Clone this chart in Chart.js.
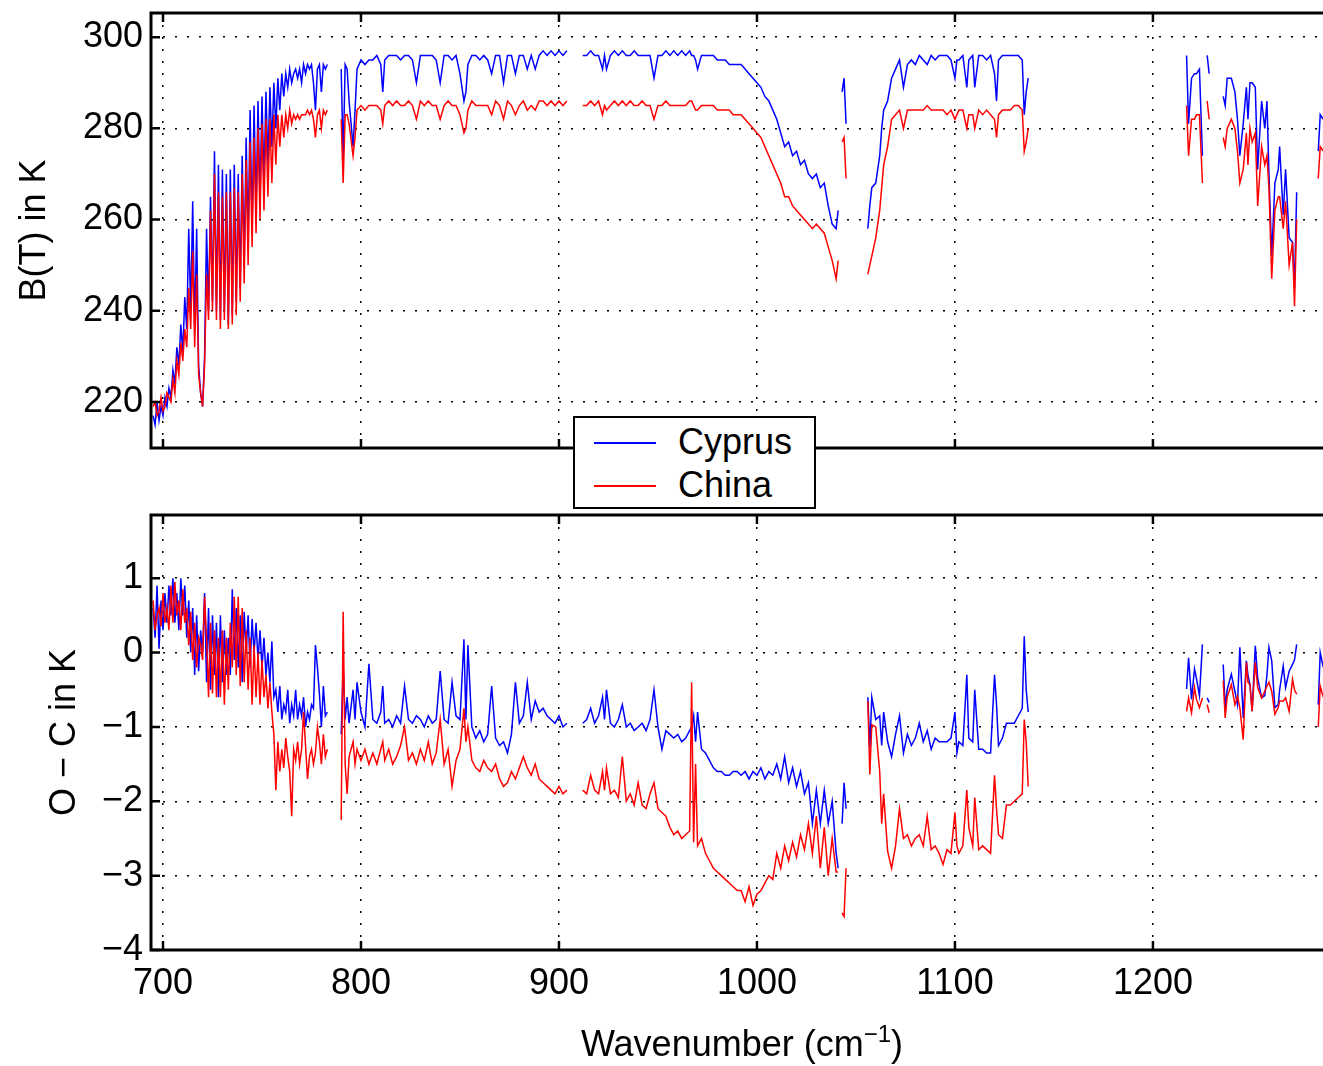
<!DOCTYPE html>
<html>
<head>
<meta charset="utf-8">
<script src="https://cdn.jsdelivr.net/npm/chart.js@4.4.1/dist/chart.umd.min.js"></script>
<style>
  body { margin: 0; background: #fff; width: 1323px; height: 1066px; overflow: hidden; position: relative;
         font-family: "Liberation Sans", Arial, sans-serif; }
  canvas { position: absolute; left: 0; }
  #top-chart { top: 0; }
  #bottom-chart { top: 470px; }
  #legend { position: absolute; left: 573px; top: 416px; width: 243px; height: 93px; box-sizing: border-box;
            border: 2px solid #000; background: #fff; z-index: 5; }
  #legend .line { position: absolute; left: 19px; width: 62px; height: 1.5px; }
  #legend .label { position: absolute; left: 103px; font-size: 36px; line-height: 36px; color: #000; }
  #x-title { position: absolute; left: 742px; top: 1026px; transform: translateX(-50%); font-size: 36px;
             line-height: 36px; white-space: nowrap; color: #000; }
  #x-title sup { font-size: 24px; vertical-align: 14px; line-height: 0; }
</style>
</head>
<body>
<canvas id="top-chart" width="1323" height="460"></canvas>
<canvas id="bottom-chart" width="1323" height="596"></canvas>
<div id="legend">
  <div class="line" style="top:24px;background:#0000ff"></div>
  <div class="label" style="top:6px">Cyprus</div>
  <div class="line" style="top:67px;background:#ff0000"></div>
  <div class="label" style="top:49px">China</div>
</div>
<div id="x-title">Wavenumber (cm<sup>&minus;1</sup>)</div>
<script>
// Wavenumbers (cm-1), null rows mark gaps in the spectrum
const wn = [
  695,696,697,698,699,700,701,702,703,704,
  705,706,707,708,709,710,711,712,713,714,
  715,716,717,718,719,720,721,722,723,724,
  725,726,727,728,729,730,731,732,733,734,
  735,736,737,738,739,740,741,742,743,744,
  745,746,747,748,749,750,751,752,753,754,
  755,756,757,758,759,760,761,762,763,764,
  765,766,767,768,769,770,771,772,773,774,
  775,776,777,778,779,780,781,782,783,786,
  790,791,792,793,794,796,797,798,800,802,
  804,806,808,810,811,812,814,816,818,820,
  822,824,826,828,830,832,834,836,838,840,
  842,844,846,848,850,852,853,854,856,858,
  860,862,864,866,868,870,872,874,876,878,
  880,882,884,886,888,890,892,894,896,898,
  900,902,904,908,912,914,916,918,920,922,
  923,924,926,928,930,932,934,936,938,940,
  942,944,946,948,950,952,954,956,958,960,
  962,964,966,967,968,969,970,972,974,976,
  978,980,982,984,986,988,990,992,994,996,
  998,1000,1002,1004,1006,1008,1010,1012,1014,1016,
  1018,1020,1022,1024,1026,1028,1030,1032,1034,1036,
  1038,1040,1041,1042,1043,1044,1045,1050,
  1056,1057,1058,1060,1062,1063,1064,1066,1068,1070,
  1072,1074,1076,1078,1080,1082,1084,1086,1088,1090,
  1092,1094,1096,1098,1100,1101,1102,1104,1106,1107,
  1109,1110,1112,1114,1116,1118,1120,1121,1122,1124,
  1126,1128,1130,1132,1134,1135,1136,1137,1170,
  1217,1218,1219.5,1221,1222,1223.5,1225,1226,1227.4,1228.4,
  1232,1235.5,1236.5,1237.5,1239.6,1241.4,1242.7,1243.9,1245.6,1247.2,
  1248,1249,1250.1,1251.7,1252.9,1254.9,1256.5,1257.6,1258.6,1260,
  1261.6,1263.3,1264,1265.8,1267,1268.8,1270.5,1271.5,1272.6,1278,
  1283.5,1284.5,1286
];

// Brightness temperature B(T) in K
const topCyprus = [
  217,215,220,216,219,217,221,219,223,221,
  227,224,232,228,237,231,243,236,258,240,
  264,236,258,228,222,219,230,258,240,265,
  242,275,240,272,238,271,240,270,237,271,
  239,272,242,270,245,274,250,278,255,284,
  258,285,262,286,264,287,268,288,272,289,
  276,290,280,291,284,292,287,292,289,293,
  290,292,293,291,293,290,294,292,294,293,
  294,290,284,293,294,288,294,293,294,null,
  293,273,294,293,286,276,284,293,295,294,
  295,295,296,294,288,295,296,296,296,295,
  296,296,295,290,296,296,296,296,295,290,
  296,296,295,296,292,286,288,294,296,296,
  295,296,295,292,296,296,290,296,296,292,
  296,296,293,296,293,296,297,296,297,296,
  297,296,297,null,296,296,297,296,296,293,
  296,293,296,297,296,297,296,296,297,296,
  296,296,296,291,296,296,297,296,297,296,
  297,296,297,296,296,295,293,296,296,296,
  296,295,295,295,294,294,294,294,293,292,
  291,290,289,287,286,284,282,279,276,277,
  274,275,272,273,270,269,270,267,268,263,
  259,258,262,null,288,291,281,null,
  258,263,267,268,274,280,284,286,291,293,
  295,289,294,295,294,296,295,294,296,295,
  296,296,296,295,291,295,295,296,289,295,
  296,289,296,296,295,296,292,286,295,296,
  296,296,296,296,295,283,288,291,null,
  296,281,291,292,292,293,274,null,296,292,
  null,287,285,291,291,288,282,274,281,289,
  282,290,290,289,271,286,280,286,270,252,
  268,271,276,261,271,256,255,245,266,null,
  275,283,282
];
const topChina = [
  219,220,217,218,221,218,219,222,221,220,
  225,222,229,226,233,229,236,232,245,236,
  253,232,248,226,222,219,228,248,238,262,
  240,270,238,266,236,265,238,266,236,266,
  237,267,239,266,242,270,246,273,250,277,
  254,278,257,280,260,281,262,282,265,282,
  268,283,272,283,276,283,278,283,280,284,
  281,283,282,283,282,283,283,283,284,283,
  284,282,278,283,284,280,284,283,284,null,
  282,268,283,283,281,274,278,284,285,284,
  285,285,285,284,281,285,286,285,286,285,
  285,286,285,282,286,285,286,285,285,282,
  285,286,285,285,283,279,280,284,286,285,
  285,285,285,283,286,285,282,286,285,283,
  285,286,284,285,284,286,286,285,286,285,
  286,285,286,null,285,285,286,285,286,283,
  285,284,285,286,285,286,285,286,285,285,
  286,285,285,282,285,285,286,285,285,285,
  285,285,286,286,285,284,284,285,285,285,
  285,284,284,284,284,283,283,283,282,281,
  280,279,278,276,274,272,270,268,265,265,
  263,262,261,260,259,258,259,258,257,254,
  251,247,251,null,277,278,269,null,
  248,250,252,256,262,267,272,276,282,283,
  284,280,284,284,284,284,284,285,284,284,
  284,284,283,284,282,283,284,284,280,283,
  283,280,284,283,284,283,282,278,283,284,
  284,284,285,285,284,275,277,280,null,
  285,274,282,282,283,283,268,null,286,282,
  null,278,276,280,282,280,275,268,271,279,
  272,280,277,279,263,276,272,274,267,247,
  262,265,265,258,264,250,255,241,260,null,
  269,276,275
];

// Observed minus computed, in K
const diffCyprus = [
  0.6,0.2,0.9,0.05,0.7,0.3,0.8,0.4,0.9,0.5,
  1.0,0.4,0.8,0.3,1.0,0.5,0.9,0.2,0.7,0.0,
  0.6,-0.3,0.5,-0.25,0.3,0.0,0.8,-0.4,0.6,-0.5,
  0.5,-0.3,0.4,-0.6,0.5,-0.4,0.3,-0.3,0.2,-0.3,
  0.85,-0.1,0.6,-0.2,0.5,-0.4,0.55,0.0,0.5,-0.2,
  0.45,0.0,0.4,-0.1,0.3,-0.2,0.2,-0.3,0.0,-0.4,
  0.15,-0.6,-0.5,-0.8,-0.45,-0.9,-0.7,-0.8,-0.5,-0.95,
  -0.7,-0.85,-0.5,-0.9,-0.7,-0.85,-0.6,-1.0,-0.8,-0.9,
  -0.7,-0.75,0.1,-0.2,-0.55,-1.0,-0.45,-0.85,-0.8,null,
  -1.1,-0.2,-0.9,-0.6,-0.95,-0.5,-0.9,-0.4,-0.8,-1.0,
  -0.15,-0.9,-0.95,-0.8,-0.45,-0.95,-0.9,-1.0,-0.85,-0.95,
  -0.45,-0.9,-0.95,-0.85,-0.9,-1.0,-0.85,-0.95,-0.9,-0.25,
  -0.9,-0.95,-0.4,-0.85,-0.9,0.18,-0.9,0.1,-1.0,-1.15,
  -1.05,-1.2,-1.1,-0.45,-1.15,-1.25,-1.2,-1.35,-1.1,-0.4,
  -0.95,-0.85,-0.4,-0.9,-0.65,-0.8,-0.75,-0.85,-0.9,-0.95,
  -0.85,-1.0,-0.95,null,-0.95,-0.9,-0.75,-0.95,-0.85,-0.6,
  -0.9,-0.5,-0.95,-1.0,-0.9,-0.7,-1.0,-0.95,-1.05,-1.0,
  -0.95,-1.05,-0.9,-0.5,-1.0,-1.3,-1.05,-1.1,-1.15,-1.1,
  -1.2,-1.15,-1.05,-1.0,-0.85,-1.2,-0.8,-1.3,-1.35,-1.45,
  -1.55,-1.6,-1.6,-1.65,-1.65,-1.6,-1.6,-1.65,-1.6,-1.7,
  -1.6,-1.65,-1.55,-1.7,-1.6,-1.65,-1.5,-1.7,-1.4,-1.75,
  -1.55,-1.8,-1.6,-1.9,-1.75,-2.3,-1.85,-2.3,-1.85,-2.3,
  -2.0,-2.7,-2.9,null,-2.3,-1.75,-2.1,null,
  -0.6,-1.28,-0.6,-0.9,-0.85,-1.25,-0.8,-1.2,-1.4,-1.1,
  -0.85,-1.35,-1.1,-1.25,-1.15,-0.95,-1.2,-1.05,-1.3,-1.15,
  -1.2,-1.2,-1.2,-1.15,-0.8,-1.35,-1.2,-1.25,-0.3,-1.15,
  -1.2,-0.5,-1.3,-1.3,-1.35,-1.35,-0.3,-0.7,-1.25,-1.15,
  -0.95,-0.95,-0.95,-0.85,-0.75,0.22,-0.5,-0.8,null,
  -0.49,-0.07,-0.63,-0.22,-0.35,-0.58,0.11,null,-0.61,-0.67,
  null,-0.16,-0.74,-0.5,-0.29,-0.52,-0.7,0.07,-0.88,-0.11,
  -0.3,-0.43,-0.79,0.09,-0.34,-0.61,-0.58,-0.3,0.07,-0.11,
  -0.74,-0.7,-0.5,-0.18,-0.47,-0.25,-0.16,-0.1,0.11,null,
  -0.7,0.0,-0.2
];
const diffChina = [
  0.7,0.3,0.5,0.6,0.35,0.8,0.4,0.6,0.3,0.9,
  0.4,0.95,0.5,0.7,0.3,0.85,0.4,0.6,0.1,0.55,
  -0.1,0.4,-0.2,0.2,0.1,-0.1,0.75,0.2,-0.6,0.4,
  -0.55,0.3,-0.6,0.2,-0.6,0.3,-0.7,0.2,-0.5,0.4,
  -0.2,0.75,-0.3,0.75,-0.45,0.6,-0.4,0.3,-0.5,0.2,
  -0.7,0.1,-0.6,0.0,-0.7,-0.1,-0.6,-0.3,-0.75,-0.4,
  -0.8,-1.1,-1.85,-1.2,-1.6,-1.3,-1.55,-1.15,-1.4,-1.6,
  -2.2,-1.3,-1.45,-1.2,-1.5,-1.3,-0.8,-1.25,-1.7,-1.4,
  -1.3,-1.5,-1.35,-1.0,-1.2,-1.5,-1.1,-1.4,-1.3,null,
  -2.25,0.55,-1.5,-1.9,-1.4,-1.2,-1.5,-1.3,-1.45,-1.3,
  -1.5,-1.35,-1.5,-1.3,-1.2,-1.45,-1.3,-1.5,-1.4,-1.25,
  -1.0,-1.45,-1.35,-1.5,-1.3,-1.45,-1.2,-1.5,-1.35,-0.9,
  -1.5,-1.3,-1.8,-1.45,-1.3,-0.75,-1.2,-1.0,-1.45,-1.55,
  -1.6,-1.45,-1.55,-1.6,-1.5,-1.7,-1.8,-1.75,-1.6,-1.7,
  -1.55,-1.4,-1.55,-1.65,-1.5,-1.7,-1.75,-1.8,-1.85,-1.9,
  -1.8,-1.9,-1.85,null,-1.85,-1.9,-1.65,-1.85,-1.9,-1.6,
  -1.85,-1.55,-1.9,-1.85,-1.95,-1.4,-2.0,-1.9,-2.05,-1.75,
  -2.05,-2.1,-1.9,-1.75,-2.1,-2.15,-2.2,-2.35,-2.45,-2.4,
  -2.5,-2.45,-2.4,-0.4,-2.55,-1.5,-2.6,-2.5,-2.7,-2.8,
  -2.9,-2.95,-3.0,-3.05,-3.1,-3.15,-3.2,-3.2,-3.35,-3.15,
  -3.4,-3.25,-3.2,-3.1,-3.0,-3.05,-2.7,-2.9,-2.6,-2.8,
  -2.55,-2.75,-2.45,-2.65,-2.3,-2.7,-2.2,-2.9,-2.35,-3.0,
  -2.5,-2.95,-2.95,null,-3.5,-3.55,-2.9,null,
  -0.65,-1.64,-0.97,-1.0,-1.6,-2.3,-1.9,-2.67,-2.9,-2.6,
  -2.1,-2.5,-2.45,-2.6,-2.5,-2.45,-2.6,-2.2,-2.65,-2.6,
  -2.7,-2.85,-2.65,-2.7,-2.15,-2.6,-2.7,-2.6,-1.85,-2.35,
  -2.6,-1.95,-2.65,-2.6,-2.65,-2.7,-1.65,-2.1,-2.45,-2.5,
  -2.05,-2.05,-2.0,-1.95,-1.9,-0.9,-1.2,-1.8,null,
  -0.79,-0.61,-0.81,-0.47,-0.63,-0.74,-0.61,null,-0.7,-0.81,
  null,-0.38,-0.88,-0.6,-0.43,-0.7,-0.59,-0.74,-1.17,-0.13,
  -0.4,-0.43,-0.79,-0.13,-0.47,-0.61,-0.52,-0.45,-0.4,-0.52,
  -0.83,-0.74,-0.65,-0.65,-0.61,-0.79,-0.36,-0.5,-0.56,null,
  -1.0,-0.45,-0.6
];

// Tick values
const xTicks = [700, 800, 900, 1000, 1100, 1200];
const topYTicks = [220, 240, 260, 280, 300];
const bottomYTicks = [-4, -3, -2, -1, 0, 1];

const X_MIN = 693.94;
const X_MAX = 1285.9;

Chart.defaults.font.family = '"Liberation Sans", Arial, sans-serif';
Chart.defaults.font.size = 36;
Chart.defaults.color = '#000';

// Draw the box and the inward tick marks like the original figure
const framePlugin = {
    id: 'frame',
    afterDatasetsDraw(chart) {
        const { ctx, chartArea: a, scales: { x, y } } = chart;
        ctx.save();
        ctx.strokeStyle = '#000';
        ctx.lineWidth = 3;
        ctx.beginPath();
        ctx.moveTo(a.right + 4, a.top);
        ctx.lineTo(a.left, a.top);
        ctx.lineTo(a.left, a.bottom);
        ctx.lineTo(a.right + 4, a.bottom);
        ctx.stroke();
        ctx.lineWidth = 2.5;
        ctx.beginPath();
        x.ticks.forEach(t => {
            const px = x.getPixelForValue(t.value);
            ctx.moveTo(px, a.bottom);
            ctx.lineTo(px, a.bottom - 9);
            ctx.moveTo(px, a.top);
            ctx.lineTo(px, a.top + 9);
        });
        y.ticks.forEach(t => {
            const py = y.getPixelForValue(t.value);
            ctx.moveTo(a.left, py);
            ctx.lineTo(a.left + 9, py);
        });
        ctx.stroke();
        ctx.restore();
    }
};

const toPoints = (values) => wn.map((w, i) => ({ x: w, y: values[i] }));

const makeDataset = (label, values, color, order) => ({
    label,
    data: toPoints(values),
    borderColor: color,
    backgroundColor: color,
    borderWidth: 1.5,
    pointRadius: 0,
    tension: 0,
    spanGaps: false,
    order
});

const minusLabel = (v) => (v < 0 ? '\u2212' + Math.abs(v) : String(v));

const makeChart = (canvasId, cfg) => {
    const ctx = document.getElementById(canvasId).getContext('2d');
    return new Chart(ctx, {
        type: 'line',
        data: {
            datasets: [
                makeDataset('Cyprus', cfg.cyprus, '#0000ff', 2),
                makeDataset('China', cfg.china, '#ff0000', 1)
            ]
        },
        options: {
            responsive: false,
            animation: false,
            events: [],
            layout: { padding: { top: cfg.padTop, left: 0, right: 0, bottom: 0 } },
            plugins: { legend: { display: false }, tooltip: { enabled: false } },
            scales: {
                x: {
                    type: 'linear',
                    min: X_MIN,
                    max: X_MAX,
                    afterBuildTicks: (s) => { s.ticks = xTicks.map(v => ({ value: v })); },
                    afterFit: (s) => {
                        s.height = cfg.xHeight;
                        s.paddingLeft = 0;
                        s.paddingRight = 0;
                    },
                    grid: { color: '#000', lineWidth: 1.5, drawTicks: false },
                    border: { display: false, dash: [2, 10] },
                    ticks: {
                        display: cfg.xLabels,
                        padding: 12,
                        autoSkip: false,
                        maxRotation: 0,
                        color: '#000',
                        font: { size: 36 },
                        callback: (v) => String(v)
                    }
                },
                y: {
                    type: 'linear',
                    min: cfg.yMin,
                    max: cfg.yMax,
                    afterBuildTicks: (s) => { s.ticks = cfg.yTicks.map(v => ({ value: v })); },
                    afterFit: (s) => {
                        s.width = 151;
                        s.paddingTop = 0;
                        s.paddingBottom = 0;
                    },
                    grid: { color: '#000', lineWidth: 1.5, drawTicks: false },
                    border: { display: false, dash: [2, 10] },
                    ticks: {
                        padding: 8,
                        color: '#000',
                        font: { size: 36 },
                        callback: (v) => minusLabel(v)
                    },
                    title: {
                        display: true,
                        text: cfg.yTitle,
                        color: '#000',
                        font: { size: 36 },
                        padding: { top: cfg.titlePad, bottom: 0 }
                    }
                }
            }
        },
        plugins: [framePlugin]
    });
};

const setup = () => {
    makeChart('top-chart', {
        cyprus: topCyprus,
        china: topChina,
        yMin: 209.9,
        yMax: 305.3,
        yTicks: topYTicks,
        yTitle: 'B(T) in K',
        titlePad: 13,
        padTop: 13,
        xHeight: 12,
        xLabels: false
    });
    makeChart('bottom-chart', {
        cyprus: diffCyprus,
        china: diffChina,
        yMin: -4,
        yMax: 1.85,
        yTicks: bottomYTicks,
        yTitle: 'O \u2212 C in K',
        titlePad: 43,
        padTop: 45,
        xHeight: 116,
        xLabels: true
    });
};

document.addEventListener('DOMContentLoaded', setup);
</script>
</body>
</html>
